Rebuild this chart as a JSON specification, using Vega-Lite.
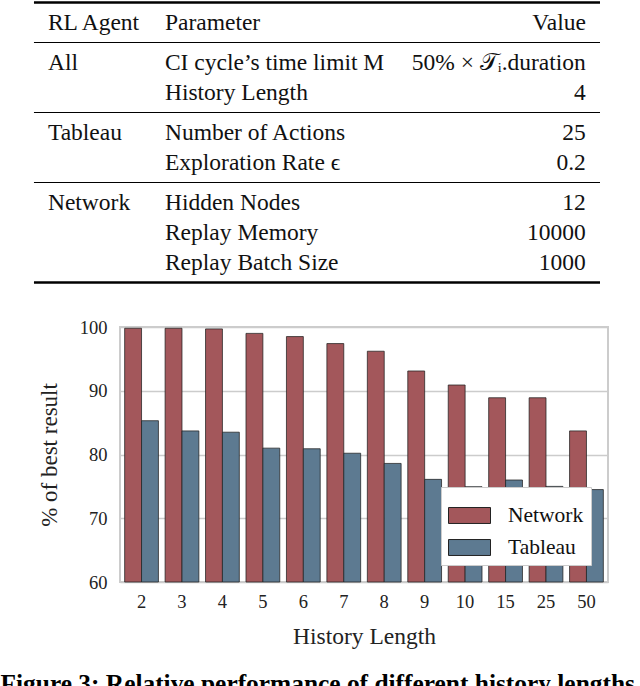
{
  "$schema": "https://vega.github.io/schema/vega-lite/v6.json",
  "padding": {"left": 0, "top": 0, "right": 0, "bottom": 0},
  "background": "white",
  "config": {
    "font": "Liberation Serif",
    "title": {"font": "Liberation Serif"},
    "axis": {"labelFont": "Liberation Serif", "titleFont": "Liberation Serif", "labelColor": "#222", "titleColor": "#222", "titleFontWeight": "normal"},
    "legend": {"labelFont": "Liberation Serif"}
  },
  "datasets": {
    "table": [
      {"row": 0, "block": 0, "agent": "RL Agent", "parameter": "Parameter", "value": "Value"},
      {"row": 1, "block": 1, "agent": "All", "parameter": "CI cycle’s time limit M", "value": "50% × 𝒯ᵢ.duration"},
      {"row": 2, "block": 1, "agent": "", "parameter": "History Length", "value": "4"},
      {"row": 3, "block": 2, "agent": "Tableau", "parameter": "Number of Actions", "value": "25"},
      {"row": 4, "block": 2, "agent": "", "parameter": "Exploration Rate ϵ", "value": "0.2"},
      {"row": 5, "block": 3, "agent": "Network", "parameter": "Hidden Nodes", "value": "12"},
      {"row": 6, "block": 3, "agent": "", "parameter": "Replay Memory", "value": "10000"},
      {"row": 7, "block": 3, "agent": "", "parameter": "Replay Batch Size", "value": "1000"}
    ],
    "rules": [
      {"row": 0, "block": 0, "weight": "thick", "side": "above"},
      {"row": 1, "block": 1, "weight": "thin", "side": "above"},
      {"row": 3, "block": 2, "weight": "thin", "side": "above"},
      {"row": 5, "block": 3, "weight": "thin", "side": "above"},
      {"row": 7, "block": 3, "weight": "thick", "side": "below"}
    ],
    "perf": [
      {"length": 2, "agent": "Network", "pct": 99.8},
      {"length": 2, "agent": "Tableau", "pct": 85.3},
      {"length": 3, "agent": "Network", "pct": 99.8},
      {"length": 3, "agent": "Tableau", "pct": 83.7},
      {"length": 4, "agent": "Network", "pct": 99.7},
      {"length": 4, "agent": "Tableau", "pct": 83.5},
      {"length": 5, "agent": "Network", "pct": 99.0},
      {"length": 5, "agent": "Tableau", "pct": 81.0},
      {"length": 6, "agent": "Network", "pct": 98.5},
      {"length": 6, "agent": "Tableau", "pct": 80.9},
      {"length": 7, "agent": "Network", "pct": 97.4},
      {"length": 7, "agent": "Tableau", "pct": 80.2},
      {"length": 8, "agent": "Network", "pct": 96.2},
      {"length": 8, "agent": "Tableau", "pct": 78.6},
      {"length": 9, "agent": "Network", "pct": 93.1},
      {"length": 9, "agent": "Tableau", "pct": 76.1},
      {"length": 10, "agent": "Network", "pct": 90.9},
      {"length": 10, "agent": "Tableau", "pct": 74.95},
      {"length": 15, "agent": "Network", "pct": 88.9},
      {"length": 15, "agent": "Tableau", "pct": 76.0},
      {"length": 25, "agent": "Network", "pct": 88.9},
      {"length": 25, "agent": "Tableau", "pct": 75.0},
      {"length": 50, "agent": "Network", "pct": 83.7},
      {"length": 50, "agent": "Tableau", "pct": 74.5}
    ]
  },
  "title": {
    "text": "Figure 3: Relative performance of different history lengths.",
    "orient": "bottom", "anchor": "middle", "fontSize": 25.4, "fontWeight": "bold", "color": "black", "offset": 23
  },
  "columns": 1,
  "spacing": 32,
  "resolve": {"legend": {"color": "independent"}},
  "concat": [
    {
      "width": 480,
      "height": 285,
      "view": {"stroke": null},
      "resolve": {"scale": {"yOffset": "independent"}},
      "layer": [
        {
          "data": {"name": "rules"},
          "transform": [{"filter": "datum.side === 'above'"}],
          "mark": {"type": "rule", "color": "black"},
          "encoding": {
            "x": {"datum": 0, "type": "quantitative", "scale": {"domain": [0.152, 1], "nice": false, "zero": false}, "axis": null},
            "x2": {"datum": 1},
            "y": {"field": "row", "type": "ordinal", "scale": {"domain": [0, 1, 2, 3, 4, 5, 6, 7], "paddingInner": 0, "paddingOuter": 0.75}, "axis": null},
            "yOffset": {"field": "block", "type": "quantitative", "scale": {"domain": [0, 3], "range": [-20, 10], "nice": false, "zero": false}},
            "strokeWidth": {"field": "weight", "type": "nominal", "scale": {"domain": ["thick", "thin"], "range": [2.4, 1.2]}, "legend": null}
          }
        },
        {
          "data": {"name": "rules"},
          "transform": [{"filter": "datum.side === 'below'"}],
          "mark": {"type": "rule", "color": "black", "strokeWidth": 2.4},
          "encoding": {
            "x": {"datum": 0, "type": "quantitative"},
            "x2": {"datum": 1},
            "y": {"field": "row", "type": "ordinal"},
            "yOffset": {"field": "block", "type": "quantitative", "scale": {"domain": [0, 3], "range": [20, 50], "nice": false, "zero": false}}
          }
        },
        {
          "data": {"name": "table"},
          "mark": {"type": "text", "align": "left", "baseline": "middle", "fontSize": 23.5, "color": "#111"},
          "encoding": {
            "x": {"datum": 0.0247, "type": "quantitative"},
            "y": {"field": "row", "type": "ordinal"},
            "yOffset": {"field": "block", "type": "quantitative", "scale": {"domain": [0, 3], "range": [0, 30], "nice": false, "zero": false}},
            "text": {"field": "agent"}
          }
        },
        {
          "data": {"name": "table"},
          "mark": {"type": "text", "align": "left", "baseline": "middle", "fontSize": 23.5, "color": "#111"},
          "encoding": {
            "x": {"datum": 0.2314, "type": "quantitative"},
            "y": {"field": "row", "type": "ordinal"},
            "yOffset": {"field": "block", "type": "quantitative", "scale": {"domain": [0, 3], "range": [0, 30], "nice": false, "zero": false}},
            "text": {"field": "parameter"}
          }
        },
        {
          "data": {"name": "table"},
          "mark": {"type": "text", "align": "right", "baseline": "middle", "fontSize": 23.5, "color": "#111"},
          "encoding": {
            "x": {"datum": 0.975, "type": "quantitative"},
            "y": {"field": "row", "type": "ordinal"},
            "yOffset": {"field": "block", "type": "quantitative", "scale": {"domain": [0, 3], "range": [0, 30], "nice": false, "zero": false}},
            "text": {"field": "value"}
          }
        }
      ]
    },
    {
      "width": 488,
      "height": 255,
      "view": {"stroke": "#cccccc", "strokeWidth": 2},
      "data": {"name": "perf"},
      "mark": {"type": "bar", "stroke": "#222", "strokeWidth": 1, "strokeOpacity": 0.75},
      "encoding": {
        "x": {
          "field": "length", "type": "ordinal", "title": "History Length",
          "scale": {"paddingInner": 0.165, "paddingOuter": 0.115},
          "axis": {"labelAngle": 0, "labelFontSize": 18.5, "ticks": false, "domain": false, "labelPadding": 10, "titlePadding": 14, "titleFontSize": 23.5}
        },
        "xOffset": {"field": "agent", "type": "nominal", "sort": ["Network", "Tableau"], "scale": {"paddingInner": 0, "paddingOuter": 0}},
        "y": {
          "field": "pct", "type": "quantitative", "title": "% of best result",
          "scale": {"domain": [60, 100], "zero": false, "nice": false},
          "axis": {"values": [60, 70, 80, 90, 100], "labelFontSize": 18.5, "labelPadding": 13, "ticks": false, "domain": false, "gridColor": "#cccccc", "gridWidth": 1.5, "titleFontSize": 23, "titlePadding": 18}
        },
        "y2": {"datum": 60},
        "color": {
          "field": "agent", "type": "nominal",
          "scale": {"domain": ["Network", "Tableau"], "range": ["#a3575b", "#5d7a91"]},
          "legend": {
            "title": null, "orient": "bottom-right", "offset": 17,
            "fillColor": "white", "strokeColor": "#cccccc", "padding": 7, "rowPadding": -3,
            "symbolType": "M-1,-0.38H1V0.38H-1Z", "symbolSize": 1764,
            "symbolStrokeColor": "#222", "symbolStrokeWidth": 1,
            "labelFontSize": 21.5, "labelOffset": 17, "labelColor": "#111"
          }
        }
      }
    }
  ]
}
